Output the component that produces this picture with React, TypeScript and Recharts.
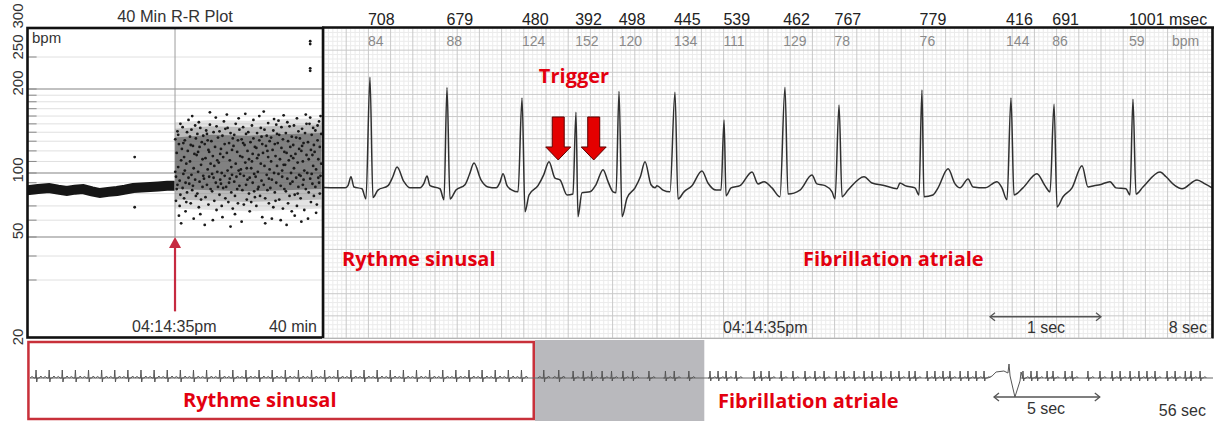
import React from 'react';
import {
  ComposedChart,
  LineChart,
  Line,
  Area,
  Scatter,
  XAxis,
  YAxis,
  ReferenceLine,
  ReferenceArea,
  ReferenceDot,
} from 'recharts';

const SANS = '"Liberation Sans", Arial, sans-serif';
const BOLD = '"Open Sans", "Noto Sans", sans-serif';
const RED = '#e3000f';

// ---------- 40 min R-R plot (left panel) ----------
const rrTickBpm = [20, 50, 100, 200, 250, 300];
const rrTickShift = [0, -6, -3, -6, -10, -13];
const rrMajorGrid = [50, 100, 200];
const rrMinorGrid = [30, 40, 60, 70, 80, 90, 110, 120, 130, 140, 150, 160, 170, 180, 190, 250];
const afOnsetMin = 20.07;

// sinus rhythm: the thick band of the first 20 minutes (minute, bpm)
const sinusBand: [number, number][] = [
  [0, 83], [1.5, 84], [3, 85], [4.2, 83.5], [5.4, 82.3], [6.5, 83.5], [7.6, 84],
  [8.8, 82], [9.9, 80.5], [11, 81.5], [12.2, 82.3], [13.3, 83.5], [14.4, 85],
  [15.5, 85.5], [16.7, 86], [17.8, 86.5], [19, 87], [20, 87],
];
const sinusStray: [number, number][] = [[14.6, 114], [14.6, 69]];

// atrial fibrillation: scattered beats after 04:14:35pm (minute, bpm)
const afBeats: [number, number][] = [
  [20.1,132],[20.2,96],[20.2,74],[20.3,118],[20.4,141],[20.4,88],[20.5,105],[20.6,63],[20.6,127],[20.7,92],[20.8,150],[20.8,79],[20.9,111],[20.9,58],[20.1,101],[20.3,84],[20.5,137],[20.7,70],
  [21.0,122],[21.1,85],[21.1,146],[21.2,99],[21.3,76],[21.3,114],[21.4,131],[21.5,90],[21.5,66],[21.6,108],[21.7,140],[21.7,81],[21.8,120],[21.9,95],[21.9,155],[21.2,128],[21.6,73],[21.4,102],
  [22.0,89],[22.1,135],[22.1,110],[22.2,72],[22.3,98],[22.3,143],[22.4,83],[22.5,125],[22.6,104],[22.6,61],[22.7,117],[22.8,93],[22.8,148],[22.9,78],[22.2,126],[22.5,87],[22.9,133],[22.4,160],
  [23.0,116],[23.1,80],[23.1,138],[23.2,101],[23.3,69],[23.4,124],[23.4,91],[23.5,145],[23.6,107],[23.6,75],[23.7,129],[23.8,86],[23.8,112],[23.9,97],[23.3,152],[23.5,64],[23.9,136],[23.2,119],
  [24.0,94],[24.1,127],[24.2,77],[24.2,113],[24.3,142],[24.4,88],[24.5,103],[24.5,131],[24.6,71],[24.7,119],[24.7,96],[24.8,149],[24.9,84],[24.9,108],[24.1,57],[24.4,138],[24.6,121],[24.8,165],
  [25.0,130],[25.1,99],[25.1,82],[25.2,115],[25.3,140],[25.4,74],[25.4,106],[25.5,124],[25.6,90],[25.7,147],[25.7,67],[25.8,111],[25.9,134],[25.9,86],[25.3,95],[25.6,158],[25.2,60],[25.8,101],
  [26.0,109],[26.1,141],[26.1,79],[26.2,93],[26.3,122],[26.4,100],[26.4,70],[26.5,136],[26.6,114],[26.6,85],[26.7,153],[26.8,97],[26.8,127],[26.9,76],[26.2,117],[26.5,62],[26.9,144],[26.3,89],
  [27.0,86],[27.1,118],[27.2,102],[27.2,145],[27.3,73],[27.4,128],[27.5,94],[27.5,111],[27.6,139],[27.7,81],[27.7,105],[27.8,121],[27.9,68],[27.9,133],[27.1,162],[27.4,90],[27.6,56],[27.8,98],
  [28.0,125],[28.1,91],[28.1,137],[28.2,78],[28.3,108],[28.3,150],[28.4,96],[28.5,119],[28.6,72],[28.6,131],[28.7,102],[28.8,87],[28.8,143],[28.9,115],[28.2,64],[28.5,84],[28.7,157],[28.9,99],
  [29.0,103],[29.1,132],[29.2,83],[29.2,114],[29.3,146],[29.4,97],[29.4,71],[29.5,126],[29.6,109],[29.7,88],[29.7,138],[29.8,75],[29.9,120],[29.9,93],[29.1,59],[29.3,128],[29.6,163],[29.8,104],
  [30.0,140],[30.1,80],[30.1,112],[30.2,95],[30.3,129],[30.4,73],[30.4,104],[30.5,148],[30.6,90],[30.6,117],[30.7,133],[30.8,82],[30.8,99],[30.9,124],[30.2,66],[30.5,110],[30.7,155],[30.9,77],
  [31.0,96],[31.1,123],[31.1,70],[31.2,139],[31.3,101],[31.4,86],[31.4,116],[31.5,131],[31.6,78],[31.7,108],[31.7,145],[31.8,92],[31.9,127],[31.9,62],[31.2,113],[31.5,160],[31.3,84],[31.8,135],
  [32.0,118],[32.1,88],[32.2,143],[32.2,106],[32.3,76],[32.4,125],[32.5,98],[32.5,136],[32.6,83],[32.7,114],[32.7,151],[32.8,72],[32.9,103],[32.9,130],[32.3,58],[32.6,120],[32.8,94],[32.1,166],
  [33.0,85],[33.1,110],[33.1,134],[33.2,93],[33.3,121],[33.4,69],[33.4,142],[33.5,100],[33.6,127],[33.6,81],[33.7,115],[33.8,149],[33.8,90],[33.9,106],[33.2,61],[33.5,156],[33.7,74],[33.9,138],
  [34.0,128],[34.1,99],[34.2,75],[34.2,137],[34.3,112],[34.4,87],[34.5,123],[34.5,146],[34.6,96],[34.7,68],[34.7,132],[34.8,107],[34.9,84],[34.9,119],[34.1,154],[34.4,60],[34.6,102],[34.8,161],
  [35.0,107],[35.1,139],[35.1,82],[35.2,118],[35.3,94],[35.4,130],[35.4,72],[35.5,111],[35.6,147],[35.7,89],[35.7,124],[35.8,100],[35.9,66],[35.9,135],[35.3,152],[35.6,78],[35.2,57],[35.8,115],
  [36.0,91],[36.1,126],[36.2,104],[36.2,148],[36.3,79],[36.4,117],[36.5,95],[36.5,134],[36.6,70],[36.7,109],[36.8,141],[36.8,86],[36.9,122],[36.9,98],[36.3,63],[36.6,157],[36.1,113],[36.7,80],
  [37.0,133],[37.1,97],[37.1,76],[37.2,120],[37.3,144],[37.4,88],[37.4,110],[37.5,128],[37.6,67],[37.6,102],[37.7,139],[37.8,84],[37.9,116],[37.9,150],[37.2,59],[37.5,93],[37.8,162],[37.3,125],
  [38.0,100],[38.1,129],[38.2,81],[38.2,112],[38.3,150],[38.4,94],[38.5,73],[38.5,121],[38.6,137],[38.7,89],[38.8,106],[38.8,145],[38.9,78],[38.9,126],[38.1,61],[38.4,158],[38.6,99],[38.7,116],
  [39.0,119],[39.1,86],[39.1,142],[39.2,103],[39.3,71],[39.4,131],[39.5,95],[39.5,112],[39.6,153],[39.7,80],[39.7,124],[39.8,97],[39.9,138],[39.9,108],[39.2,65],[39.4,148],[39.6,90],[39.8,160],
  [38.4,277],[38.4,272],[38.4,231],[38.4,227],
];
// envelopes of the AF cloud, from the sparse rim to the dense core
const afCoreMin = [20.1, 25, 30, 35, 39.9];
const afOuterLow = [68, 67, 66, 67, 68];
const afOuterHigh = [152, 155, 154, 156, 157];
const afMidLow = [75, 74, 73, 74, 75];
const afMidHigh = [144, 147, 146, 148, 149];
const afInnerLow = [84, 83, 82, 83, 84];
const afInnerHigh = [134, 137, 136, 138, 139];

// bpm axis of the R-R plot: log pieces between the printed ticks
const warpBpm = [20, 30, 40, 50, 100, 200, 250, 300];
const warpPos = [0, 57, 81, 100, 164, 248, 280, 308];
function warp(bpm: number) {
  const l = Math.log(bpm);
  for (let i = 1; i < warpBpm.length; i++) {
    if (bpm <= warpBpm[i] || i === warpBpm.length - 1) {
      const a = Math.log(warpBpm[i - 1]);
      const b = Math.log(warpBpm[i]);
      return warpPos[i - 1] + ((l - a) / (b - a)) * (warpPos[i] - warpPos[i - 1]);
    }
  }
  return 0;
}

// ---------- 8 sec strip (main panel) ----------
const rrMs = [708, 679, 480, 392, 498, 445, 539, 462, 767, 779, 416, 691, 1001];
const rrBpm = [84, 88, 124, 152, 120, 134, 111, 129, 78, 76, 144, 86, 59];
const firstBeatSec = 0.414;
const beatTimes = rrMs.reduce<number[]>((acc, _ms, i) => {
  acc.push(i === 0 ? firstBeatSec : acc[i - 1] + rrMs[i - 1] / 1000);
  return acc;
}, []);
const triggerSec = [2.11, 2.43];
const triggerMv = 0.63;
const oneSecBar = [6.0, 7.0];

// ECG trace (sec, mV)
const ecgTrace: [number, number][] = [
  [0, 0.01], [0.19, 0], [0.216, 0.05], [0.243, 0.25], [0.27, 0.02], [0.342, -0.02], [0.378, -0.25],
  [0.414, 2.5], [0.441, -0.22], [0.486, -0.05], [0.577, 0.05], [0.62, 0.25], [0.658, 0.47], [0.72, 0.14],
  [0.775, 0], [0.865, 0], [0.9, 0.1], [0.928, 0.27], [0.955, 0.05], [1.045, -0.02], [1.081, -0.27],
  [1.108, 2.27], [1.135, -0.25], [1.189, -0.05], [1.27, 0.07], [1.31, 0.3], [1.351, 0.56], [1.414, 0.18],
  [1.477, 0.02], [1.55, 0], [1.586, 0.13], [1.613, 0.32], [1.649, 0.05], [1.694, -0.05], [1.748, -0.09],
  [1.784, 2.03], [1.811, -0.54], [1.847, -0.16], [1.928, 0.05], [1.98, 0.3], [2.027, 0.59], [2.081, 0.22],
  [2.126, 0.18], [2.189, -0.16], [2.243, -0.14], [2.27, 1.71], [2.288, -0.65], [2.324, -0.11], [2.396, -0.09],
  [2.45, 0.07], [2.514, 0.41], [2.559, 0.14], [2.604, -0.09], [2.631, -0.11], [2.658, 2.18], [2.685, -0.65],
  [2.73, -0.23], [2.802, 0], [2.85, 0.25], [2.892, 0.59], [2.946, 0.07], [2.982, 0], [3.0, 0.05],
  [3.054, -0.05], [3.117, -0.09], [3.162, 2.16], [3.189, -0.25], [3.243, -0.09], [3.315, 0.05], [3.405, 0.38],
  [3.459, 0.11], [3.532, -0.05], [3.577, -0.05], [3.604, 1.53], [3.622, -0.18], [3.667, 0], [3.748, 0.05],
  [3.856, 0.36], [3.91, 0.09], [3.964, 0.14], [4.036, 0], [4.108, -0.2], [4.153, 2.27], [4.18, -0.14],
  [4.288, -0.05], [4.396, 0.29], [4.441, 0.09], [4.514, 0.05], [4.577, -0.09], [4.604, -0.25], [4.64, 1.87],
  [4.667, -0.2], [4.721, -0.05], [4.865, 0.25], [4.937, 0.11], [5.054, 0.05], [5.162, -0.02], [5.189, 0.11],
  [5.234, 0.05], [5.324, 0], [5.36, -0.16], [5.387, 2.21], [5.405, -0.2], [5.486, -0.16], [5.532, 0],
  [5.622, 0.43], [5.685, 0.09], [5.73, 0], [5.802, 0.2], [5.847, 0.02], [5.955, 0], [6.063, 0.14],
  [6.108, 0], [6.153, -0.27], [6.189, 2.03], [6.216, -0.16], [6.297, 0], [6.423, 0.32], [6.495, 0.05],
  [6.541, -0.09], [6.577, 1.89], [6.604, -0.43], [6.658, -0.2], [6.739, 0], [6.829, 0.5], [6.883, 0.02],
  [6.937, 0.05], [6.99, 0.07], [7.081, 0.14], [7.135, 0], [7.225, -0.02], [7.261, -0.16], [7.288, 2.0],
  [7.315, -0.14], [7.378, 0.02], [7.532, 0.36], [7.586, 0.25], [7.667, 0.05], [7.73, -0.02], [7.865, 0.18],
  [7.937, 0.09], [8.0, 0],
];

// ---------- 56 sec overview strip (bottom) ----------
const stripWindowSec = [23.96, 31.96];
const stripSinusSec = [
  0.38, 1.0, 1.62, 2.24, 2.86, 3.48, 4.1, 4.72, 5.34, 5.96, 6.58, 7.2, 7.82, 8.44, 9.06, 9.68, 10.3,
  10.92, 11.54, 12.16, 12.78, 13.4, 14.02, 14.64, 15.26, 15.88, 16.5, 17.12, 17.74, 18.36, 18.98,
  19.6, 20.22, 20.84, 21.46, 22.08, 22.7, 23.32,
];
const stripAfSec = [
  32.23, 32.61, 32.99, 33.46, 34.31, 34.64, 35.02, 35.59, 36.15, 36.72, 37.19, 37.62, 38.19, 38.56,
  39.04, 39.51, 39.89, 40.31, 40.78, 41.16, 41.64, 41.92, 42.49, 42.86, 43.24, 43.57, 44.05, 44.42,
  44.8, 45.18, 47.02, 47.4, 47.68, 48.16, 48.44, 49.01, 49.34, 50.09, 50.66, 51.23, 51.61, 52.08,
  52.5, 52.88, 53.26, 53.83, 54.21, 54.69, 54.96, 55.39,
];
// movement artefact around 46 s (sec, amplitude)
const artefact: [number, number][] = [
  [45.37, 0], [45.56, 0.2], [45.75, 0.6], [46.12, 0.7], [46.31, 0.5], [46.36, 1.4], [46.41, 0.2],
  [46.64, -1.9], [46.88, -0.3], [46.93, 0.6], [47.02, -0.1], [47.16, 0],
];
const fiveSecBar = [45.65, 50.65];

// ---------- shapes ----------
const Dot = (p: any) => <circle cx={p.cx} cy={p.cy} r={1.4} fill="#1a1a1a" />;

const UpArrow = (p: any) => {
  const { x1, y1, x2, y2 } = p;
  return (
    <g>
      <line x1={x1} y1={y1} x2={x2} y2={y2 + 9} stroke="#c62a40" strokeWidth={2.2} />
      <path d={`M${x2},${y2} L${x2 - 6},${y2 + 11} L${x2 + 6},${y2 + 11} Z`} fill="#c62a40" />
    </g>
  );
};

const SpanArrow = (p: any) => {
  const { x1, y1, x2, y2 } = p;
  return (
    <g stroke="#555" strokeWidth={1.3} fill="none">
      <line x1={x1} y1={y1} x2={x2} y2={y2} />
      <path d={`M${x1 + 5},${y1 - 4} L${x1},${y1} L${x1 + 5},${y1 + 4}`} />
      <path d={`M${x2 - 5},${y2 - 4} L${x2},${y2} L${x2 - 5},${y2 + 4}`} />
    </g>
  );
};

const TriggerArrow = (p: any) => {
  const { cx, cy } = p;
  return (
    <path
      d={`M${cx},${cy} L${cx - 12.5},${cy - 13} L${cx - 6},${cy - 13} L${cx - 6},${cy - 43} L${cx + 6},${cy - 43} L${cx + 6},${cy - 13} L${cx + 12.5},${cy - 13} Z`}
      fill="#e40000"
      stroke="#5a0000"
      strokeWidth={1}
    />
  );
};

// RR interval (msec) above the strip and instant rate (bpm) just inside it
const BeatLabel = (p: any) => {
  const i = p.index as number;
  const x = p.cx - 2;
  return (
    <g fontFamily={SANS}>
      <text x={x} y={25} fontSize={16} fill="#222">
        {rrMs[i]}
        {i === rrMs.length - 1 ? ' msec' : ''}
      </text>
      <text x={x} y={46} fontSize={14} fill="#8a8a8a">
        {rrBpm[i]}
      </text>
    </g>
  );
};

const StripBeat = (p: any) => {
  const { cx, cy, payload } = p;
  const d =
    payload.kind === 's'
      ? `M${cx - 6},${cy} l2,-1.5 l2,1.5 l1.5,0 l0.5,-8 l0.7,12 l0.6,-4 l2,0 l1.5,-2 l1.5,2`
      : `M${cx - 2},${cy} l1.5,0 l0.5,-7 l0.7,10 l0.6,-3 l2,0 l1.5,-1.5 l1.5,1.5`;
  return <path d={d} stroke="#555" strokeWidth={1} fill="none" />;
};

const RRTick = (p: any) => {
  const i = rrTickBpm.findIndex((b) => Math.abs(warp(b) - p.payload.value) < 0.01);
  if (i < 0) return <g />;
  const yy = p.y + rrTickShift[i];
  return (
    <text
      x={17}
      y={yy}
      transform={`rotate(-90 17 ${yy})`}
      textAnchor="middle"
      dominantBaseline="central"
      fontSize={15}
      fontFamily={SANS}
      fill="#333"
    >
      {rrTickBpm[i]}
    </text>
  );
};

// ---------- panels ----------
function RRGrid() {
  const allGrid = [...rrMinorGrid, ...rrMajorGrid];
  return (
    <ComposedChart width={322} height={352} margin={{ top: 28, right: 0, bottom: 15, left: 0 }}>
      <XAxis type="number" dataKey="m" domain={[0, 40]} hide allowDataOverflow />
      <YAxis
        type="number"
        domain={[0, 309]}
        width={27}
        ticks={rrTickBpm.map(warp)}
        interval={0}
        axisLine={false}
        tickLine={false}
        tick={RRTick}
        allowDataOverflow
      />
      {rrMinorGrid.map((b) => (
        <ReferenceLine key={'n' + b} y={warp(b)} stroke="#e0e0e0" />
      ))}
      {rrMajorGrid.map((b) => (
        <ReferenceLine key={'j' + b} y={warp(b)} stroke="#adadad" strokeWidth={1.3} />
      ))}
      {allGrid.map((b) => (
        <ReferenceLine
          key={'k' + b}
          segment={[{ x: 0, y: warp(b) }, { x: 1.3, y: warp(b) }]}
          stroke="#888"
        />
      ))}
      <ReferenceLine
        segment={[{ x: afOnsetMin, y: warp(50) }, { x: afOnsetMin, y: 309 }]}
        stroke="#9c9c9c"
      />
    </ComposedChart>
  );
}

function RRPlot() {
  const band = sinusBand.map(([m, b]) => ({ m, u: warp(b) }));
  const dots = [...sinusStray, ...afBeats].map(([m, b]) => ({ m, u: warp(b) }));
  const layer = (lo: number[], hi: number[]) =>
    afCoreMin.map((m, i) => ({ m, range: [warp(lo[i]), warp(hi[i])] }));
  return (
    <>
      <div style={{ position: 'absolute', left: 0, top: 0 }}>
        <RRGrid />
      </div>
      <div style={{ position: 'absolute', left: 0, top: 0 }}>
        <ComposedChart width={322} height={352} margin={{ top: 28, right: 0, bottom: 15, left: 27 }}>
          <XAxis type="number" dataKey="m" domain={[0, 40]} hide allowDataOverflow />
          <YAxis type="number" domain={[0, 309]} hide allowDataOverflow />
          <Area data={layer(afOuterLow, afOuterHigh)} dataKey="range" stroke="none" fill="#a5a5a5" fillOpacity={0.3} isAnimationActive={false} />
          <Area data={layer(afMidLow, afMidHigh)} dataKey="range" stroke="none" fill="#707070" fillOpacity={0.35} isAnimationActive={false} />
          <Area data={layer(afInnerLow, afInnerHigh)} dataKey="range" stroke="none" fill="#3c3c3c" fillOpacity={0.45} isAnimationActive={false} />
          <Line data={band} dataKey="u" stroke="#161616" strokeWidth={10} dot={false} isAnimationActive={false} />
          <Scatter data={dots} dataKey="u" shape={Dot} isAnimationActive={false} />
          <ReferenceLine
            segment={[{ x: afOnsetMin, y: warp(24) }, { x: afOnsetMin, y: warp(50) }]}
            shape={UpArrow}
          />
        </ComposedChart>
      </div>
    </>
  );
}

function MainStrip() {
  const trace = ecgTrace.map(([t, v]) => ({ t, v }));
  const cols = Array.from({ length: 201 }, (_, i) => i * 0.04);
  const rows = Array.from({ length: 71 }, (_, i) => -3.39 + i * 0.1);
  return (
    <div style={{ position: 'absolute', left: 324, top: 0 }}>
      <LineChart width={891} height={340} margin={{ top: 28, right: 3, bottom: 2, left: 0 }}>
        <XAxis xAxisId="t" type="number" dataKey="t" domain={[0, 8]} hide allowDataOverflow />
        <YAxis yAxisId="v" type="number" domain={[-3.39, 3.61]} hide allowDataOverflow />
        {cols.map((c, i) =>
          i % 5 ? <ReferenceLine key={'c' + i} xAxisId="t" yAxisId="v" x={c} stroke="#ebebeb" /> : null,
        )}
        {rows.map((r, i) =>
          i % 5 ? <ReferenceLine key={'r' + i} xAxisId="t" yAxisId="v" y={r} stroke="#ebebeb" /> : null,
        )}
        {cols.map((c, i) =>
          i % 5 ? null : <ReferenceLine key={'C' + i} xAxisId="t" yAxisId="v" x={c} stroke="#c9c9c9" />,
        )}
        {rows.map((r, i) =>
          i % 5 ? null : <ReferenceLine key={'R' + i} xAxisId="t" yAxisId="v" y={r} stroke="#c9c9c9" />,
        )}
        <Line
          xAxisId="t"
          yAxisId="v"
          data={trace}
          dataKey="v"
          type="monotoneX"
          stroke="#303030"
          strokeWidth={1.5}
          dot={false}
          isAnimationActive={false}
        />
        {beatTimes.map((t, i) => (
          <ReferenceDot
            key={'b' + i}
            xAxisId="t"
            yAxisId="v"
            x={t}
            y={0}
            shape={(p: any) => <BeatLabel {...p} index={i} />}
          />
        ))}
        {triggerSec.map((t) => (
          <ReferenceDot key={'tr' + t} xAxisId="t" yAxisId="v" x={t} y={triggerMv} shape={TriggerArrow} />
        ))}
        <ReferenceLine
          xAxisId="t"
          yAxisId="v"
          segment={[{ x: oneSecBar[0], y: -2.91 }, { x: oneSecBar[1], y: -2.91 }]}
          shape={SpanArrow}
        />
      </LineChart>
    </div>
  );
}

function FullStrip() {
  const beats = [
    ...stripSinusSec.map((t) => ({ t, v: 0, kind: 's' })),
    ...beatTimes.map((t, i) => ({ t: stripWindowSec[0] + t, v: 0, kind: i < 2 ? 's' : 'f' })),
    ...stripAfSec.map((t) => ({ t, v: 0, kind: 'f' })),
  ];
  const art = artefact.map(([t, v]) => ({ t, v }));
  return (
    <div style={{ position: 'absolute', left: 24, top: 340 }}>
      <ComposedChart width={1193} height={81} margin={{ top: 0, right: 4, bottom: 0, left: 4 }}>
        <XAxis type="number" dataKey="t" domain={[0, 56]} hide allowDataOverflow />
        <YAxis type="number" domain={[-4.3, 3.8]} hide allowDataOverflow />
        <ReferenceArea
          x1={stripWindowSec[0]}
          x2={stripWindowSec[1]}
          y1={-4.3}
          y2={3.8}
          fill="#b9b9bd"
          fillOpacity={1}
          stroke="none"
        />
        <ReferenceArea
          x1={0.02}
          x2={23.9}
          y1={-4.1}
          y2={3.6}
          fill="none"
          fillOpacity={0}
          stroke="#c8303a"
          strokeWidth={2.5}
        />
        <ReferenceLine segment={[{ x: 0.1, y: 0 }, { x: 45.37, y: 0 }]} stroke="#666" />
        <ReferenceLine segment={[{ x: 47.16, y: 0 }, { x: 56, y: 0 }]} stroke="#666" />
        <Line data={art} dataKey="v" stroke="#555" strokeWidth={1} dot={false} isAnimationActive={false} />
        <Scatter data={beats} dataKey="v" shape={StripBeat} isAnimationActive={false} />
        <ReferenceLine
          segment={[{ x: fiveSecBar[0], y: -1.9 }, { x: fiveSecBar[1], y: -1.9 }]}
          shape={SpanArrow}
        />
      </ComposedChart>
    </div>
  );
}

export default function App() {
  return (
    <div
      style={{
        position: 'absolute',
        left: 0,
        top: 0,
        width: 1217,
        height: 421,
        background: '#fff',
        overflow: 'hidden',
      }}
    >
      <RRPlot />
      <MainStrip />
      <FullStrip />
      <svg width={1217} height={421} style={{ position: 'absolute', left: 0, top: 0, pointerEvents: 'none' }}>
        {/* frames */}
        <rect x={27.5} y={28} width={295.5} height={309.5} fill="none" stroke="#111" strokeWidth={2.6} />
        <line x1={322} y1={27.5} x2={1214} y2={27.5} stroke="#111" strokeWidth={2.6} />
        <line x1={1212.5} y1={27} x2={1212.5} y2={338.5} stroke="#111" strokeWidth={2.6} />
        <line x1={322} y1={338.5} x2={1212} y2={338.5} stroke="#b5b5b5" strokeWidth={1} />
        <g fontFamily={SANS} fill="#333">
          {/* R-R plot texts */}
          <text x={175} y={22} fontSize={16.4} textAnchor="middle">40 Min R-R Plot</text>
          <text x={32} y={43} fontSize={15}>bpm</text>
          <text x={132} y={332} fontSize={16}>04:14:35pm</text>
          <text x={317} y={332} fontSize={16} textAnchor="end">40 min</text>
          {/* main strip texts */}
          <text x={1172} y={46} fontSize={14} fill="#8a8a8a">bpm</text>
          <text x={723} y={333} fontSize={16}>04:14:35pm</text>
          <text x={1046} y={333} fontSize={16} textAnchor="middle">1 sec</text>
          <text x={1207} y={333} fontSize={16} textAnchor="end">8 sec</text>
          {/* overview strip texts */}
          <text x={1046} y={414} fontSize={16} textAnchor="middle">5 sec</text>
          <text x={1206} y={416} fontSize={16} textAnchor="end">56 sec</text>
        </g>
        <g fontFamily={BOLD} fontWeight={700} fill={RED} fontSize={20}>
          <text x={574} y={83} textAnchor="middle">Trigger</text>
          <text x={342} y={266}>Rythme sinusal</text>
          <text x={803} y={266}>Fibrillation atriale</text>
          <text x={183} y={407}>Rythme sinusal</text>
          <text x={718} y={408}>Fibrillation atriale</text>
        </g>
      </svg>
    </div>
  );
}
